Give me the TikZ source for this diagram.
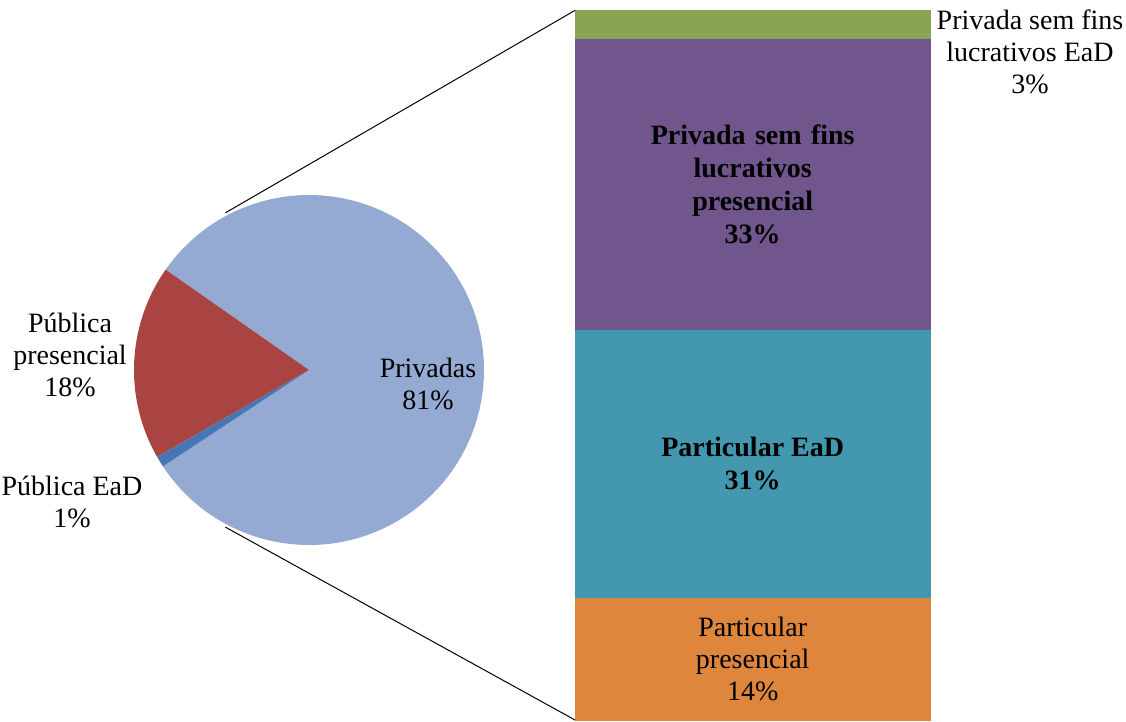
\documentclass[tikz,border=0pt]{standalone}
\usepackage{fontspec}
\setmainfont{Liberation Serif}
\usetikzlibrary{positioning}
\definecolor{privcol}{RGB}{148,170,210}
\definecolor{pubcol}{RGB}{170,68,66}
\definecolor{eadcol}{RGB}{70,118,180}
\definecolor{grncol}{RGB}{135,165,82}
\definecolor{purcol}{RGB}{112,86,141}
\definecolor{tealcol}{RGB}{67,152,176}
\definecolor{orgcol}{RGB}{222,134,62}
\begin{document}
\begin{tikzpicture}[x=0.5pt,y=0.5pt,
		lbl/.style={align=center,inner sep=0pt,font=\fontsize{14}{16}\selectfont},
		seg/.style={minimum width=177.5pt,inner sep=0pt,align=center,font=\fontsize{14}{16.5}\selectfont\bfseries}]
		\useasboundingbox (0,0) rectangle (1126,722);
		% pie
		\coordinate (c) at (309,352);
		\fill[privcol] (c) -- ++(213.4:175) arc (213.4:505:175) -- cycle;
		\fill[pubcol] (c) -- ++(145:175) arc (145:209.8:175) -- cycle;
		\fill[eadcol] (c) -- ++(209.8:175) arc (209.8:213.4:175) -- cycle;
		\node (priv) at (428,338) [lbl] {Privadas\\81\%};
		\node (pubp) at (70,367) [lbl] {Pública\\presencial\\18\%};
		\node (pubd) at (72,220) [lbl] {Pública EaD\\1\%};
		% bar
		\node (org) at (575,2) [seg,anchor=south west,fill=orgcol,draw=orgcol,line width=0.2pt,minimum height=61pt,font=\fontsize{14}{16}\selectfont] {Particular\\presencial\\14\%};
		\node (teal) [seg,above=0pt of org,fill=tealcol,draw=tealcol,line width=0.2pt,minimum height=134pt] {Particular EaD\\31\%};
		\node (pur) [seg,above=0pt of teal,fill=purcol,draw=purcol,line width=0.2pt,minimum height=145pt,text width=150pt] {Privada sem fins\\lucrativos\\presencial\\33\%};
		\node (grn) [seg,above=0pt of pur,fill=grncol,draw=grncol,line width=0.2pt,minimum height=14pt] {};
		\node (grnl) at (1030,670) [lbl] {Privada sem fins\\lucrativos EaD\\3\%};
		% connectors
		\coordinate (ptop) at ([shift={(118:178)}]c);
		\coordinate (pbot) at ([shift={(242:178)}]c);
		\draw[line width=0.5pt] (ptop) -- (grn.north west);
		\draw[line width=0.5pt] (pbot) -- (org.south west);
\end{tikzpicture}
\end{document}
